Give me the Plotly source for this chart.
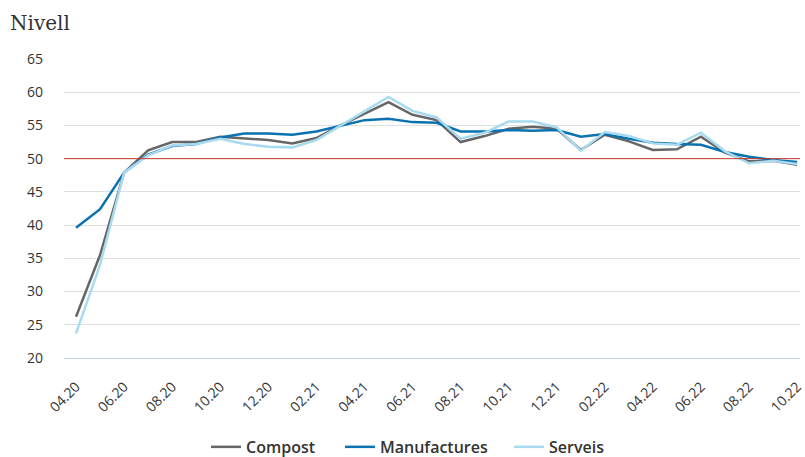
import plotly.graph_objects as go

months = ["04.20","05.20","06.20","07.20","08.20","09.20","10.20","11.20","12.20",
          "01.21","02.21","03.21","04.21","05.21","06.21","07.21","08.21","09.21","10.21","11.21","12.21",
          "01.22","02.22","03.22","04.22","05.22","06.22","07.22","08.22","09.22","10.22"]

compost = [26.2, 35.5, 47.9, 51.25, 52.5, 52.5, 53.3, 53.1, 52.8,
           52.3, 53.1, 55.0, 56.7, 58.5, 56.6, 55.8, 52.5, 53.4, 54.5, 54.8, 54.5,
           51.3, 53.6, 52.6, 51.3, 51.4, 53.3, 50.9, 49.6, 49.7, 49.1]
manufactures = [39.6, 42.4, 47.9, 50.6, 51.9, 52.2, 53.2, 53.8, 53.8,
                53.6, 54.1, 55.0, 55.8, 56.0, 55.5, 55.4, 54.1, 54.1, 54.3, 54.2, 54.3,
                53.3, 53.7, 53.0, 52.4, 52.2, 52.1, 51.0, 50.3, 49.8, 49.5]
serveis = [23.7, 34.0, 47.9, 50.5, 52.0, 52.2, 53.0, 52.2, 51.8,
           51.7, 52.8, 55.0, 57.1, 59.3, 57.2, 56.2, 53.0, 53.9, 55.6, 55.6, 54.7,
           51.2, 54.0, 53.4, 52.3, 52.1, 53.9, 51.1, 49.3, 49.7, 49.2]

tick_labels = months[::2]
y_ticks = [20, 25, 30, 35, 40, 45, 50, 55, 60, 65]

fig = go.Figure()
fig.add_trace(go.Scatter(x=months, y=compost, mode="lines", name="Compost",
                         line=dict(color="#666666", width=2.5), legend="legend"))
fig.add_trace(go.Scatter(x=months, y=manufactures, mode="lines", name="Manufactures",
                         line=dict(color="#0a72b0", width=2.5), legend="legend2"))
fig.add_trace(go.Scatter(x=months, y=serveis, mode="lines", name="Serveis",
                         line=dict(color="#a8daf0", width=2.5), legend="legend3"))

fig.add_shape(type="line", xref="paper", x0=0, x1=1, yref="y", y0=50, y1=50,
              line=dict(color="#c0392b", width=1), layer="above")

leg_font = dict(size=16, color="#333333", family="Open Sans, sans-serif", weight=600)
def leg(xpx):
    return dict(orientation="h", xref="container", x=xpx / 805, xanchor="left",
                yref="container", y=0.022, yanchor="middle",
                font=leg_font, itemwidth=30, bgcolor="rgba(0,0,0,0)")

fig.update_layout(
    width=805, height=457,
    margin=dict(l=64, r=0, t=59, b=99),
    paper_bgcolor="white", plot_bgcolor="white",
    font=dict(family="Open Sans, sans-serif", color="#333333"),
    xaxis=dict(type="category", range=[-0.5, 30.12], tickmode="array",
               tickvals=tick_labels, ticktext=tick_labels, tickangle=-45,
               showgrid=False, showline=True, linecolor="#ccd6eb", linewidth=1,
               ticks="", tickfont=dict(size=14, color="#333333"), zeroline=False,
               ticklabelstandoff=14),
    yaxis=dict(range=[20, 65], tickvals=y_ticks, showgrid=True, gridcolor="#e0e0e0",
               gridwidth=1, zeroline=False, ticks="", tickfont=dict(size=14, color="#333333"),
               ticklabelstandoff=20),
    legend=leg(206),
    legend2=leg(340),
    legend3=leg(509),
    showlegend=True,
)

fig.add_annotation(text="Nivell", xref="paper", yref="paper", x=-0.0756, y=1.122,
                   xanchor="left", yanchor="middle", showarrow=False,
                   font=dict(family="DejaVu Serif, serif", size=20, color="#333333"))

fig.write_html("out.html")
